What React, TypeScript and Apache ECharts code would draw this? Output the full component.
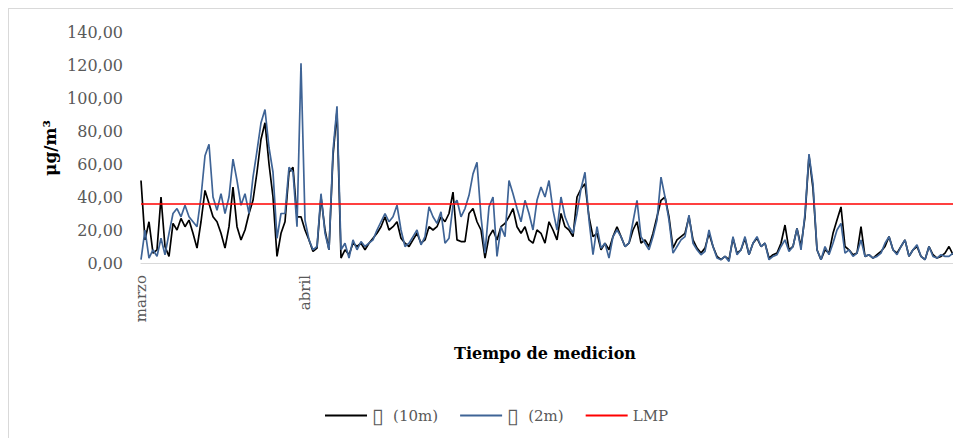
import React, { useEffect, useRef } from "react";
import * as echarts from "echarts";

// PM concentration, 10 m sampler (black)
const pm10m: number[] = [
  50, 14, 25, 6, 8, 40, 10, 4, 24, 20, 27, 22, 26, 18, 9, 25, 44, 36, 28, 25,
  18, 9, 22, 46, 22, 14, 20, 30, 38, 55, 75, 85, 60, 40, 4, 18, 25, 55, 58, 28,
  28, 20, 14, 7, 9, 40, 20, 8, 65, 92, 3, 8, 5, 12, 10, 12, 8, 12, 15, 18,
  22, 28, 20, 22, 25, 15, 12, 10, 14, 18, 12, 14, 22, 20, 22, 28, 25, 30, 43, 14,
  13, 13, 30, 33, 25, 20, 3, 16, 20, 14, 22, 24, 28, 33, 22, 18, 22, 14, 12, 20,
  18, 12, 25, 20, 14, 30, 22, 20, 16, 40, 45, 48, 28, 16, 18, 8, 12, 8, 16, 22,
  16, 10, 12, 20, 25, 12, 14, 10, 18, 28, 38, 40, 28, 9, 14, 16, 18, 28, 14, 9,
  6, 9, 18, 10, 4, 2, 4, 2, 15, 6, 8, 15, 5, 12, 15, 10, 12, 3, 5, 6,
  12, 23, 8, 10, 21, 10, 28, 65, 45, 8, 2, 8, 6, 18, 26, 34, 10, 8, 5, 6,
  22, 4, 5, 3, 5, 7, 10, 16, 8, 6, 10, 14, 4, 8, 10, 4, 2, 10, 5, 3,
  4, 6, 10, 5,
];

// PM concentration, 2 m sampler (blue)
const pm2m: number[] = [
  2, 20, 3, 8, 4, 15, 5, 18, 30, 33, 28, 35, 28, 25, 22, 40, 65, 72, 40, 32,
  42, 30, 40, 63, 50, 35, 42, 30, 52, 68, 85, 93, 70, 55, 15, 30, 30, 58, 55, 22,
  121, 26, 14, 8, 10, 42, 18, 8, 68, 95, 8, 12, 3, 14, 8, 13, 10, 12, 14, 20,
  25, 30, 25, 28, 35, 20, 10, 12, 16, 20, 11, 16, 34, 28, 24, 31, 12, 15, 35, 38,
  28, 33, 41, 54, 61, 28, 6, 34, 40, 4, 22, 16, 50, 42, 33, 25, 38, 30, 20, 38,
  46, 40, 50, 32, 20, 40, 28, 22, 18, 30, 45, 55, 26, 5, 22, 9, 12, 3, 16, 20,
  16, 10, 12, 25, 38, 16, 12, 8, 16, 26, 52, 40, 26, 6, 10, 14, 16, 29, 12, 8,
  5, 7, 20, 10, 3, 2, 4, 1, 16, 5, 8, 16, 5, 12, 16, 10, 12, 2, 4, 5,
  10, 14, 7, 10, 21, 8, 30, 66, 48, 8, 2, 10, 5, 12, 20, 24, 6, 8, 4, 6,
  14, 4, 5, 3, 4, 6, 12, 16, 8, 5, 10, 14, 4, 8, 11, 4, 2, 10, 4, 3,
  5, 4, 4, 6,
];

// Limit (LMP)
const LMP = 36;

// month labels at the sample where each month starts
const monthStarts: Record<number, string> = { 0: "marzo", 41: "abril" };
const categories: string[] = pm10m.map((_, i) => String(i + 1));

const seriesNames = ["\u25AF  (10m)", "\u25AF  (2m)", "LMP"];
const yTicks = [0, 20, 40, 60, 80, 100, 120, 140];

const FONT = "DejaVu Serif";

export default function App() {
  const ref = useRef<HTMLDivElement>(null);
  useEffect(() => {
    if (!ref.current) return;
    const chart = echarts.init(ref.current, undefined, { renderer: "svg" });
    chart.setOption({
      animation: false,
      backgroundColor: "#ffffff",
      grid: { left: 133, right: 8, top: 24, bottom: 175, containLabel: false },
      xAxis: {
        type: "category",
        data: categories,
        boundaryGap: false,
        axisLine: { show: true, lineStyle: { color: "#d9d9d9", width: 1 } },
        axisTick: { show: false },
        axisLabel: {
          interval: 0,
          rotate: 90,
          margin: 12,
          color: "#595959",
          fontFamily: FONT,
          fontSize: 15,
          formatter: (_v: string, idx: number) => monthStarts[idx] ?? "",
        },
        splitLine: { show: false },
      },
      yAxis: {
        type: "value",
        min: yTicks[0],
        max: yTicks[yTicks.length - 1],
        interval: 20,
        axisLine: { show: false },
        axisTick: { show: false },
        splitLine: { show: false },
        axisLabel: {
          margin: 18,
          color: "#595959",
          fontFamily: FONT,
          fontSize: 16,
          formatter: (v: number) => v.toFixed(2).replace(".", ","),
        },
      },
      legend: {
        left: 312,
        top: 392,
        itemWidth: 42,
        itemHeight: 2,
        itemGap: 22,
        icon: "rect",
        formatter: (name: string) =>
          name.startsWith("\u25AF") ? `{box|\u25AF}{t|${name.slice(1)}}` : `{t|${name}}`,
        textStyle: {
          color: "#595959",
          fontFamily: FONT,
          fontSize: 15,
          rich: {
            box: { fontSize: 21, color: "#595959", fontFamily: "DejaVu Sans" },
            t: { fontSize: 15, color: "#595959", fontFamily: FONT },
          },
        },
        data: seriesNames,
      },
      series: [
        {
          name: seriesNames[0],
          type: "line",
          data: pm10m,
          showSymbol: false,
          symbol: "none",
          color: "#000000",
          lineStyle: { color: "#000000", width: 1.7 },
          z: 2,
        },
        {
          name: seriesNames[1],
          type: "line",
          data: pm2m,
          showSymbol: false,
          symbol: "none",
          color: "#3f6496",
          lineStyle: { color: "#3f6496", width: 1.7 },
          z: 3,
        },
        {
          name: seriesNames[2],
          type: "line",
          data: [],
          color: "#ff0000",
          lineStyle: { color: "#ff0000", width: 1.5 },
          markLine: {
            silent: true,
            symbol: "none",
            label: { show: false },
            lineStyle: { color: "#ff0000", width: 1.5, type: "solid" },
            data: [{ yAxis: LMP }],
          },
          z: 4,
        },
      ],
      graphic: [
        {
          type: "line",
          shape: { x1: 0, y1: 0.5, x2: 953, y2: 0.5 },
          style: { stroke: "#d9d9d9", lineWidth: 1 },
        },
        {
          type: "line",
          shape: { x1: 0.5, y1: 0, x2: 0.5, y2: 430 },
          style: { stroke: "#d9d9d9", lineWidth: 1 },
        },
        {
          type: "text",
          x: 42,
          y: 140,
          rotation: Math.PI / 2,
          style: {
            text: "\u03BCg/m\u00B3",
            fill: "#000000",
            font: `bold 17px "${FONT}"`,
            align: "center",
            verticalAlign: "middle",
          },
        },
        {
          type: "text",
          x: 537,
          y: 345,
          style: {
            text: "Tiempo de medicion",
            fill: "#000000",
            font: `bold 16px "${FONT}"`,
            align: "center",
            verticalAlign: "middle",
          },
        },
      ],
    });
    return () => chart.dispose();
  }, []);
  return <div ref={ref} style={{ width: 953, height: 430 }} />;
}
